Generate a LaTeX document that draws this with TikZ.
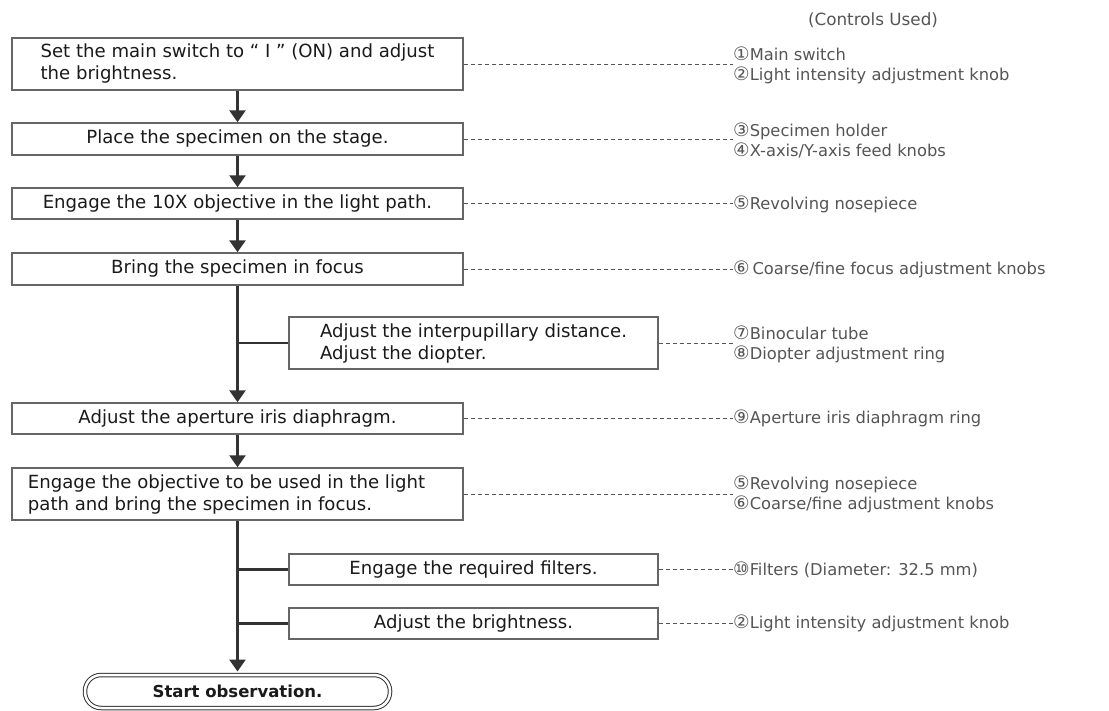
\documentclass[tikz,border=0pt]{standalone}
\usepackage{fontspec}
\setmainfont{DejaVu Sans}
\newfontfamily\symf{DejaVu Sans}
\usetikzlibrary{arrows.meta}
\definecolor{boxline}{HTML}{666666}
\definecolor{txt}{HTML}{1A1A1A}
\definecolor{lbl}{HTML}{555555}
\definecolor{trunk}{HTML}{333333}
\newcommand{\cn}[1]{{\symf\fontsize{18.5}{20}\selectfont #1}}
\tikzset{
  stepbox/.style={draw=boxline, line width=1.5pt, rectangle, inner sep=0pt, text=txt,
     font=\fontsize{18.1}{22}\selectfont, align=left},
  flow/.style={draw=trunk, line width=2.6pt, -{Triangle[width=16pt,length=12pt]}},
  branch/.style={draw=trunk, line width=2.2pt},
  dashline/.style={draw=lbl, line width=0.9pt, dash pattern=on 4pt off 3pt},
  ctl/.style={anchor=west, inner sep=0pt, text=lbl, align=left, font=\fontsize{16.3}{20}\selectfont},
  term/.style={draw=trunk, line width=1pt, double=white, double distance=2.5pt, rectangle,
     rounded corners=16pt, minimum width=305pt, minimum height=33pt, inner sep=0pt,
     font=\bfseries\fontsize{16.5}{20}\selectfont, text=txt}
}
\begin{document}
\begin{tikzpicture}[x=1pt,y=-1pt]
\useasboundingbox (0,0) rectangle (1109,710);
\fill[white] (0,0) rectangle (1109,710);

\node[text=lbl, font=\fontsize{16.8}{20}\selectfont] (hdr) at (873,20) {(Controls Used)};

% main steps
\node[stepbox, minimum width=451pt, minimum height=52pt] (b1) at (237.5,64)
  {Set the main switch to “ I ” (ON) and adjust\\the brightness.};
\node[stepbox, minimum width=451pt, minimum height=32pt] (b2) at (237.5,139)
  {Place the specimen on the stage.};
\node[stepbox, minimum width=451pt, minimum height=31pt] (b3) at (237.5,203.5)
  {Engage the 10X objective in the light path.};
\node[stepbox, minimum width=451pt, minimum height=32pt] (b4) at (237.5,269)
  {Bring the specimen in focus};
\node[stepbox, minimum width=369pt, minimum height=52pt] (s1) at (473.5,343)
  {Adjust the interpupillary distance.\\Adjust the diopter.};
\node[stepbox, minimum width=451pt, minimum height=31pt] (b5) at (237.5,418.5)
  {Adjust the aperture iris diaphragm.};
\node[stepbox, minimum width=451pt, minimum height=52pt] (b6) at (237.5,494)
  {Engage the objective to be used in the light\hspace*{22pt}\\path and bring the specimen in focus.};
\node[stepbox, minimum width=369pt, minimum height=31pt] (s2) at (473.5,569.5)
  {Engage the required filters.};
\node[stepbox, minimum width=369pt, minimum height=31pt] (s3) at (473.5,623.5)
  {Adjust the brightness.};
\node[term] (end) at (237.5,691.5) {Start observation.};

% flow arrows
\draw[flow] (b1.south) -- (b2.north);
\draw[flow] (b2.south) -- (b3.north);
\draw[flow] (b3.south) -- (b4.north);
\draw[flow] (b4.south) -- (b5.north);
\draw[flow] (b5.south) -- (b6.north);
\draw[flow, shorten >=3pt] (b6.south) -- (end.north);
\draw[branch] (s1.west) -- (s1.west -| b4.south);
\draw[branch] (s2.west) -- (s2.west -| b6.south);
\draw[branch] (s3.west) -- (s3.west -| b6.south);

% controls used
\node[ctl] (l1) at (733,65) {\cn{①}Main switch\\\cn{②}Light intensity adjustment knob};
\node[ctl] (l2) at (733,140) {\cn{③}Specimen holder\\\cn{④}X-axis/Y-axis feed knobs};
\node[ctl] (l3) at (733,204) {\cn{⑤}Revolving nosepiece};
\node[ctl] (l4) at (733,269) {\cn{⑥}\,Coarse/fine focus adjustment knobs};
\node[ctl] (l5) at (733,344) {\cn{⑦}Binocular tube\\\cn{⑧}Diopter adjustment ring};
\node[ctl] (l6) at (733,418) {\cn{⑨}Aperture iris diaphragm ring};
\node[ctl] (l7) at (733,494) {\cn{⑤}Revolving nosepiece\\\cn{⑥}Coarse/fine adjustment knobs};
\node[ctl] (l8) at (733,570) {\cn{⑩}Filters (Diameter: 32.5 mm)};
\node[ctl] (l9) at (733,623) {\cn{②}Light intensity adjustment knob};

\draw[dashline] (b1.east) -- (l1.west |- b1.east);
\draw[dashline] (b2.east) -- (l2.west |- b2.east);
\draw[dashline] (b3.east) -- (l3.west |- b3.east);
\draw[dashline] (b4.east) -- (l4.west |- b4.east);
\draw[dashline] (s1.east) -- (l5.west |- s1.east);
\draw[dashline] (b5.east) -- (l6.west |- b5.east);
\draw[dashline] (b6.east) -- (l7.west |- b6.east);
\draw[dashline] (s2.east) -- (l8.west |- s2.east);
\draw[dashline] (s3.east) -- (l9.west |- s3.east);
\end{tikzpicture}
\end{document}
